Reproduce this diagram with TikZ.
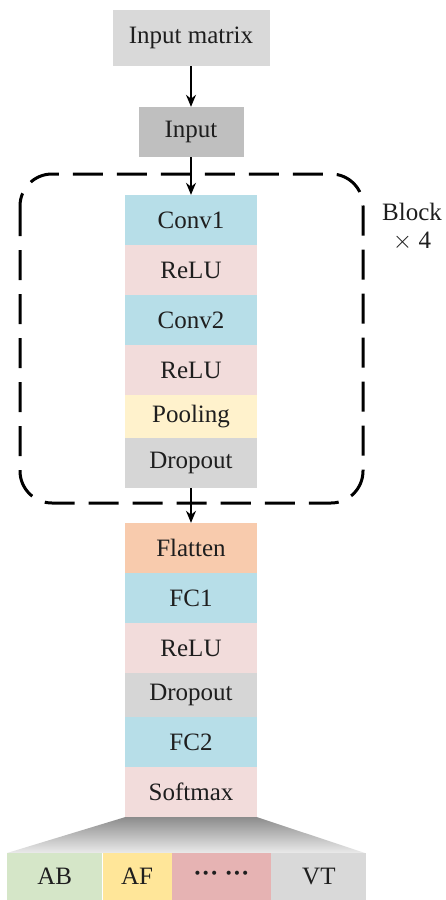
\documentclass[tikz,border=0pt]{standalone}
\usepackage{fontspec}
\setmainfont{Liberation Serif}
\usetikzlibrary{arrows.meta}
\definecolor{gIn}{HTML}{D9D9D9}
\definecolor{gInp}{HTML}{BFBFBF}
\definecolor{cConv}{HTML}{B7DEE8}
\definecolor{cRelu}{HTML}{F2DCDB}
\definecolor{cPool}{HTML}{FFF2CC}
\definecolor{cDrop}{HTML}{D6D6D6}
\definecolor{cFlat}{HTML}{F8CBAD}
\definecolor{cAB}{HTML}{D5E6C8}
\definecolor{cAF}{HTML}{FFE699}
\definecolor{cDots}{HTML}{E6B3B3}
\definecolor{cVT}{HTML}{D9D9D9}
\definecolor{txt}{HTML}{1E1E1E}
\tikzset{
  lay/.style={rectangle, inner sep=0pt, minimum width=132pt, minimum height=50pt, text=txt, font=\fontsize{25}{29}\selectfont},
  cls/.style={rectangle, inner sep=0pt, minimum height=47pt, text=txt, font=\fontsize{25}{29}\selectfont},
  arr/.style={line width=1.4pt, -{Stealth[length=12pt,width=10pt]}},
}
\begin{document}
\begin{tikzpicture}[x=1pt,y=-1pt]
\useasboundingbox (0,0) rectangle (445,900);
% top
\node[lay, fill=gIn, minimum width=157pt, minimum height=56pt] (im) at (191,38) {Input matrix};
\node[lay, fill=gInp, minimum width=105pt, minimum height=50pt] (inp) at (191,132) {Input};
% block
\draw[line width=3pt, dash pattern=on 30pt off 14pt, rounded corners=32pt] (20,174) rectangle (363,503);
\node[lay, fill=cConv] (c1) at (191,220) {Conv1};
\node[lay, fill=cRelu] (r1) at (191,270) {ReLU};
\node[lay, fill=cConv] (c2) at (191,320) {Conv2};
\node[lay, fill=cRelu] (r2) at (191,370) {ReLU};
\node[lay, fill=cPool, minimum height=43pt] (pl) at (191,416.5) {Pooling};
\node[lay, fill=cDrop] (d1) at (191,463) {Dropout};
\node[text=txt, font=\fontsize{25}{29}\selectfont, align=center] (blk) at (412,227) {Block\\[-1pt]$\times$ 4};
% head
\node[lay, fill=cFlat] (fl) at (191,548) {Flatten};
\node[lay, fill=cConv] (f1) at (191,598) {FC1};
\node[lay, fill=cRelu] (r3) at (191,648) {ReLU};
\node[lay, fill=cDrop, minimum height=44pt] (d2) at (191,695) {Dropout};
\node[lay, fill=cConv] (f2) at (191,742) {FC2};
\node[lay, fill=cRelu] (sm) at (191,792) {Softmax};
% fan
\shade[top color=black!45, bottom color=black!8] (sm.south west) -- (sm.south east) -- (365,853) -- (7,853) -- cycle;
\node[cls, fill=cAB, minimum width=95pt, anchor=north west] (ab) at (7,853) {AB};
\node[cls, fill=cAF, minimum width=69pt, anchor=north west] (af) at (ab.north east) {AF};
\node[cls, fill=cDots, minimum width=99pt, anchor=north west] (dt) at (af.north east) {\bfseries\raisebox{1pt}{···\ ···}};
\node[cls, fill=cVT, minimum width=95pt, anchor=north west] (vt) at (dt.north east) {VT};
% arrows
\draw[arr] (im.south) -- (inp.north);
\draw[arr] (inp.south) -- (c1.north);
\draw[arr] (d1.south) -- (fl.north);
\end{tikzpicture}
\end{document}
